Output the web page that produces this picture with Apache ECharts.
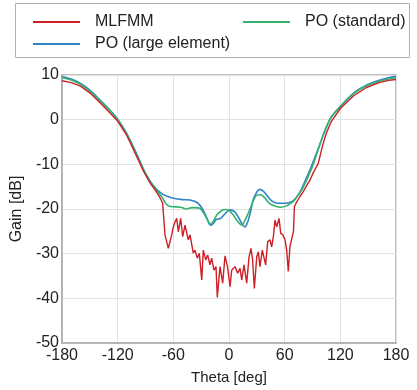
<!DOCTYPE html>
<html>
<head>
<meta charset="utf-8">
<script src="https://cdn.jsdelivr.net/npm/echarts@6/dist/echarts.min.js"></script>
<style>
html,body{margin:0;padding:0;background:#fff;}
#chart{width:417px;height:390px;}
</style>
</head>
<body>
<div id="chart"></div>
<script>
// ---- data ----
const xTicks = [-180, -120, -60, 0, 60, 120, 180];
const yTicks = [-50, -40, -30, -20, -10, 0, 10];

const thetaLarge = [-180,-170,-160,-150,-140,-130,-120,-110,-100,-92,-85,-78,-72,-66,-60,-50,-42,-34,-28,-24,-20,-17,-14,-9,-4,1,6,10,14,17,20,23,26,30,33,37,41,46,52,60,66,70,74,78,84,90,98,104,110,120,134,148,162,172,180];
const gainLarge  = [9.6,9.1,8.1,6.6,4.6,2.5,0.1,-3.2,-7.5,-11.2,-13.8,-15.6,-16.6,-17.2,-17.6,-17.9,-18.0,-18.6,-20.2,-22.0,-23.6,-23.3,-22.4,-22.1,-21.0,-20.2,-20.6,-21.8,-23.3,-24.0,-23.0,-20.8,-18.0,-16.2,-15.6,-16.0,-17.0,-18.2,-18.7,-18.7,-18.5,-18.0,-17.0,-15.6,-12.8,-9.8,-5.5,-2.2,0.5,3.0,5.9,7.7,8.8,9.4,9.7];

const thetaStd = [-180,-170,-160,-150,-140,-130,-120,-110,-100,-92,-85,-78,-72,-68,-64,-60,-52,-46,-40,-32,-27,-23,-20,-17,-13,-8,-4,0,4,8,12,14,17,20,23,27,30,34,38,44,50,56,62,66,70,74,78,84,91,98,104,110,120,134,148,162,172,180];
const gainStd  = [9.4,8.9,7.9,6.4,4.4,2.4,0.0,-3.3,-7.6,-11.3,-13.9,-15.8,-17.4,-18.8,-19.4,-19.5,-19.6,-20.0,-19.7,-19.8,-21.0,-22.5,-23.4,-22.8,-21.3,-20.4,-20.1,-20.3,-21.2,-22.4,-23.4,-23.6,-22.6,-21.3,-19.8,-17.8,-16.9,-16.8,-17.4,-18.8,-19.4,-19.6,-19.3,-18.8,-18.2,-17.0,-15.9,-13.4,-9.9,-5.5,-2.1,0.5,2.9,5.8,7.6,8.6,9.1,9.4];

const thetaMlfmm = [-180,-170,-160,-150,-140,-130,-120,-110,-100,-92,-85,-78,-74,-71.5,-69,-65.4,-62,-60,-58,-56.4,-54.6,-52.1,-49.9,-47.4,-43.9,-42,-38.5,-36.7,-34.2,-32,-29.4,-27.7,-25.1,-23,-20.5,-18.7,-16.2,-14,-12.6,-9.7,-6.8,-4.3,-1.5,1.1,2.9,6.5,9.4,11.9,13.7,16.2,19.1,21.6,23.7,25.5,27.3,29.9,31.6,33.4,35.9,37.5,39.5,41.7,44.2,46,47.8,49.6,51.5,53.9,55.7,58,60.4,62.2,63.9,65.7,67.6,69.5,70.5,72.2,76.5,80,87.3,91,96.2,101,105,110,120,134,148,162,172,180];
const gainMlfmm  = [8.7,8.3,7.5,6.0,4.0,1.9,-0.3,-3.6,-8.0,-11.6,-14.2,-16.2,-17.6,-18.7,-25.8,-28.8,-26.0,-24.0,-22.8,-22.1,-25.1,-22.1,-26.2,-23.6,-26.9,-25.8,-29.9,-29.2,-31.0,-29.9,-35.9,-29.2,-31.4,-30.3,-32.5,-31.0,-33.7,-32.9,-39.8,-32.9,-36.6,-30.5,-33.0,-37.4,-33.7,-32.9,-34.4,-33.3,-35.9,-32.5,-36.6,-30.7,-28.8,-31.5,-37.8,-30.7,-29.6,-32.9,-29.2,-29.5,-32.5,-27.3,-26.9,-28.5,-26.2,-22.5,-24.0,-22.1,-25.4,-25.8,-26.9,-29.2,-34.0,-28.4,-28.1,-25.0,-19.5,-18.7,-17.2,-16.1,-13.5,-11.8,-9.8,-5.7,-3.0,-0.5,2.5,5.3,7.2,8.3,8.8,9.0];

const seriesNames = ['MLFMM', 'PO (standard)', 'PO (large element)'];
const seriesColors = ['#cc1f26', '#35b36e', '#2f84c8'];

function zip(a, b) { return a.map((v, i) => [v, b[i]]); }

const chart = echarts.init(document.getElementById('chart'), null, {renderer: 'canvas'});
const font = 'Liberation Sans, Arial, sans-serif';
const txt = '#222';
const fs = 16;

const legendPos = [
  {left: 33, top: 14},
  {left: 243, top: 14},
  {left: 33, top: 36}
];

chart.setOption({
  animation: false,
  backgroundColor: '#fff',
  textStyle: {fontFamily: font},
  graphic: [{
    type: 'rect',
    left: 15, top: 3,
    shape: {width: 394, height: 54},
    style: {fill: '#fff', stroke: '#b0b0b0', lineWidth: 1},
    z: -1
  }],
  legend: seriesNames.map((n, i) => ({
    data: [{name: n, icon: 'rect'}],
    left: legendPos[i].left,
    top: legendPos[i].top,
    padding: 0,
    itemWidth: 47,
    itemHeight: 2,
    itemGap: 0,
    textStyle: {fontSize: fs, color: txt, fontFamily: font, padding: [0, 0, 0, 10]},
    selectedMode: false
  })),
  grid: {
    left: 62, right: 21, top: 75, bottom: 47,
    show: true, borderColor: '#aaa', borderWidth: 1.5
  },
  xAxis: {
    type: 'value',
    min: xTicks[0], max: xTicks[xTicks.length - 1], interval: 60,
    name: 'Theta [deg]', nameLocation: 'middle', nameGap: 27,
    nameTextStyle: {fontSize: 15, color: txt, fontFamily: font},
    axisLine: {show: true, onZero: false, lineStyle: {color: '#aaa', width: 1.5}},
    axisTick: {show: false},
    axisLabel: {fontSize: fs, color: txt, margin: 5, fontFamily: font},
    splitLine: {show: true, lineStyle: {color: '#e2e2e2', width: 1}}
  },
  yAxis: {
    type: 'value',
    min: yTicks[0], max: yTicks[yTicks.length - 1], interval: 10,
    name: 'Gain [dB]', nameLocation: 'middle', nameGap: 33, nameRotate: 90,
    nameTextStyle: {fontSize: fs, color: txt, fontFamily: font},
    axisLine: {show: true, onZero: false, lineStyle: {color: '#aaa', width: 1.5}},
    axisTick: {show: false},
    axisLabel: {fontSize: fs, color: txt, margin: 3, fontFamily: font},
    splitLine: {show: true, lineStyle: {color: '#e2e2e2', width: 1}}
  },
  series: [
    {name: seriesNames[2], type: 'line', data: zip(thetaLarge, gainLarge), symbol: 'none', smooth: 0.3,
     lineStyle: {color: seriesColors[2], width: 1.6}, itemStyle: {color: seriesColors[2]}, z: 2},
    {name: seriesNames[1], type: 'line', data: zip(thetaStd, gainStd), symbol: 'none', smooth: 0.3,
     lineStyle: {color: seriesColors[1], width: 1.6}, itemStyle: {color: seriesColors[1]}, z: 3},
    {name: seriesNames[0], type: 'line', data: zip(thetaMlfmm, gainMlfmm), symbol: 'none',
     lineStyle: {color: seriesColors[0], width: 1.4}, itemStyle: {color: seriesColors[0]}, z: 4}
  ]
});
</script>
</body>
</html>
